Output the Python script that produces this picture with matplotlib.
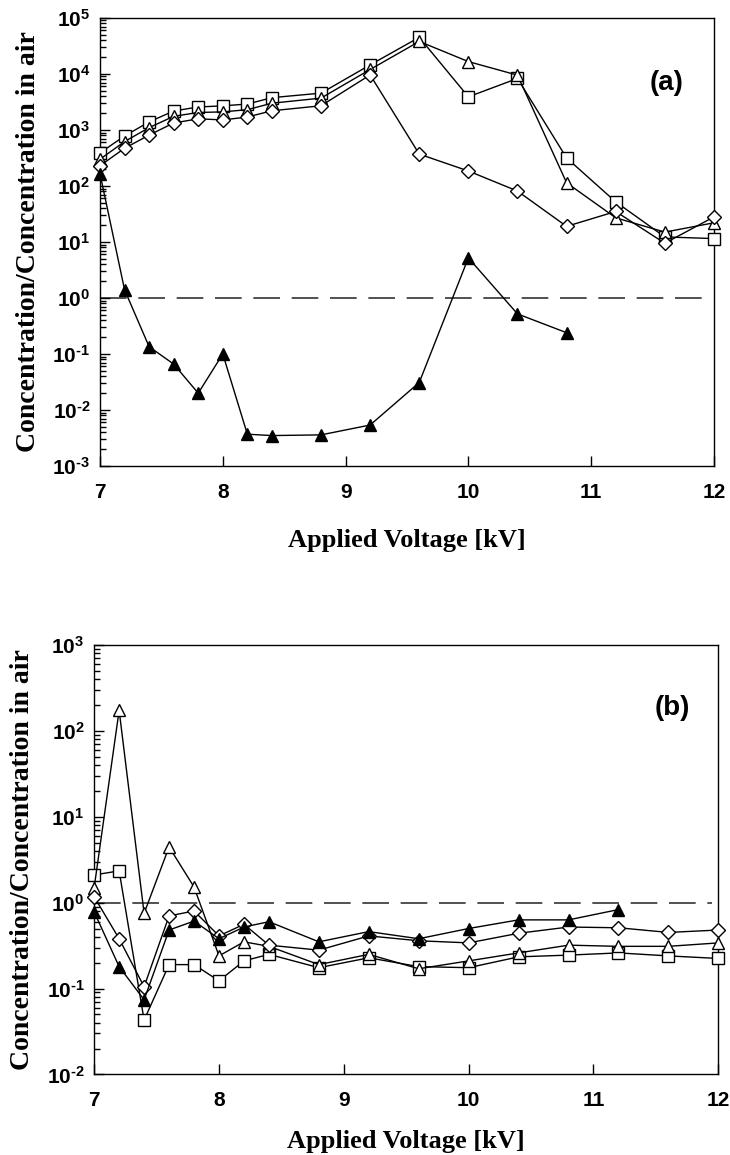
import numpy as np
import matplotlib
matplotlib.use('Agg')
from matplotlib import pyplot as plt
from matplotlib.ticker import LogLocator, FixedLocator, NullFormatter

plt.rcParams['font.family'] = ['Liberation Sans', 'DejaVu Sans']
plt.rcParams['mathtext.fontset'] = 'custom'
plt.rcParams['mathtext.rm'] = 'Liberation Sans:bold'
plt.rcParams['mathtext.bf'] = 'Liberation Sans:bold'
plt.rcParams['mathtext.default'] = 'bf'

# voltage (kV)
volt = [7.0, 7.2, 7.4, 7.6, 7.8, 8.0, 8.2, 8.4, 8.8, 9.2, 9.6, 10.0, 10.4, 10.8, 11.2, 11.6, 12.0]
volt_filled_a = volt[:14]
volt_filled_b = volt[:15]

# panel (a)
a_square = [390, 780, 1390, 2180, 2570, 2690, 2900, 3770, 4540, 14500, 45000, 3900, 8300, 316, 52, 12.3, 11.5]
a_triangle = [300, 620, 1100, 1750, 2050, 2100, 2300, 3000, 3700, 12000, 38000, 16600, 9500, 114, 27, 15, 22]
a_diamond = [230, 470, 810, 1330, 1580, 1510, 1700, 2200, 2700, 9600, 370, 185, 81, 19, 35, 9.5, 28]
a_filled = [165, 1.4, 0.135, 0.066, 0.02, 0.10, 0.0037, 0.0035, 0.0036, 0.0054, 0.031, 5.2, 0.52, 0.24]

# panel (b)
b_square = [2.1, 2.34, 0.043, 0.19, 0.19, 0.123, 0.21, 0.25, 0.175, 0.228, 0.18, 0.175, 0.234, 0.245, 0.26, 0.24, 0.224]
b_triangle = [1.5, 173, 0.75, 4.45, 1.52, 0.24, 0.35, 0.31, 0.19, 0.25, 0.17, 0.21, 0.26, 0.32, 0.31, 0.31, 0.34]
b_diamond = [1.17, 0.38, 0.105, 0.70, 0.80, 0.41, 0.56, 0.32, 0.28, 0.41, 0.36, 0.34, 0.44, 0.52, 0.51, 0.45, 0.48]
b_filled = [0.78, 0.18, 0.074, 0.48, 0.61, 0.38, 0.52, 0.60, 0.35, 0.46, 0.38, 0.50, 0.63, 0.63, 0.83]

xticks = [7, 8, 9, 10, 11, 12]


def setup(ax, ymin, ymax, tag, tag_pos):
    ax.set_yscale('log')
    ax.set_xlim(7, 12)
    ax.set_ylim(10.0**ymin, 10.0**ymax)
    for s in ax.spines.values():
        s.set_linewidth(1.0)
    ax.xaxis.set_major_locator(FixedLocator(xticks))
    ax.set_xticklabels([str(t) for t in xticks], fontsize=15, fontweight='bold')
    exps = list(range(ymin, ymax + 1))
    ax.yaxis.set_major_locator(FixedLocator([10.0**e for e in exps]))
    ax.set_yticklabels([r'$\mathbf{10^{\text{%d}}}$' % e for e in exps], fontsize=15)
    ax.yaxis.set_minor_locator(LogLocator(base=10, subs=np.arange(2, 10), numticks=20))
    ax.yaxis.set_minor_formatter(NullFormatter())
    ax.tick_params(axis='both', which='both', direction='in', top=False, right=False)
    ax.tick_params(axis='y', which='major', length=7, width=1, pad=7)
    ax.tick_params(axis='y', which='minor', length=4, width=1)
    ax.tick_params(axis='x', which='major', length=7, width=1, pad=12)
    ax.set_xlabel('Applied Voltage [kV]', family='Liberation Serif', fontweight='bold', fontsize=19)
    ax.set_ylabel('Concentration/Concentration in air', family='Liberation Serif', fontweight='bold', fontsize=20)
    ax.axhline(1.0, xmin=0, xmax=0.99, color='#333333', lw=1.2, dashes=(16, 7), zorder=1)
    ax.text(tag_pos[0], tag_pos[1], tag, transform=ax.transAxes, fontsize=20, fontweight='bold', ha='right', va='center')


def draw(ax, x, y, marker, filled):
    ax.plot(x, y, color='black', lw=1.0, marker=marker, markersize=8 if marker != 'D' else 7,
            markerfacecolor='black' if filled else 'white', markeredgecolor='black',
            markeredgewidth=1.0, clip_on=False, zorder=3)


fig = plt.figure(figsize=(7.3, 11.55), dpi=100)

ax1 = fig.add_axes([0.137, 0.5965, 0.841, 0.388])
setup(ax1, -3, 5, '(a)', (0.95, 0.855))
draw(ax1, volt, a_square, 's', False)
draw(ax1, volt, a_triangle, '^', False)
draw(ax1, volt, a_diamond, 'D', False)
draw(ax1, volt_filled_a, a_filled, '^', True)
ax1.xaxis.labelpad = 20
ax1.yaxis.labelpad = 8

ax2 = fig.add_axes([0.129, 0.0697, 0.855, 0.372])
setup(ax2, -2, 3, '(b)', (0.955, 0.852))
draw(ax2, volt, b_square, 's', False)
draw(ax2, volt, b_triangle, '^', False)
draw(ax2, volt, b_diamond, 'D', False)
draw(ax2, volt_filled_b, b_filled, '^', True)
ax2.xaxis.labelpad = 14
ax2.yaxis.labelpad = 8

fig.savefig('out.png', dpi=100)
